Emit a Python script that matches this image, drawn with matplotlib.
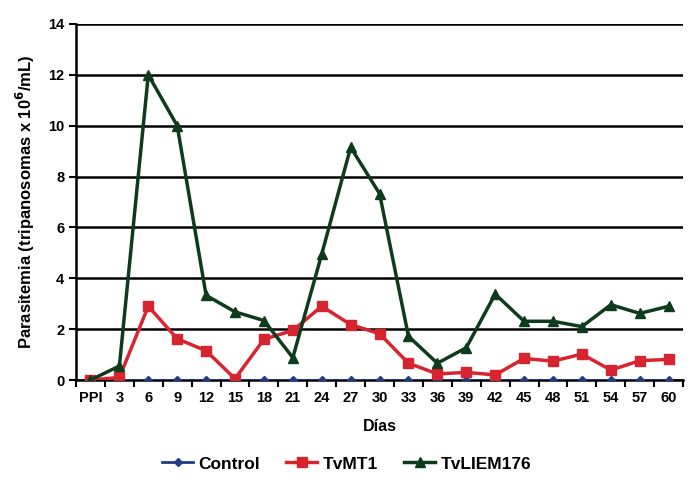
import numpy as np
import matplotlib
matplotlib.use("Agg")
import matplotlib.pyplot as plt

plt.rcParams['font.family'] = ['Liberation Sans', 'DejaVu Sans']
plt.rcParams['font.weight'] = 'bold'

dias = ["PPI", "3", "6", "9", "12", "15", "18", "21", "24", "27", "30",
        "33", "36", "39", "42", "45", "48", "51", "54", "57", "60"]
control = [0] * 21
tvmt1 = [0.0, 0.1, 2.9, 1.62, 1.15, 0.05, 1.6, 1.95, 2.9, 2.18, 1.82,
         0.66, 0.24, 0.3, 0.2, 0.85, 0.74, 1.02, 0.39, 0.76, 0.81]
tvliem176 = [0.0, 0.55, 12.0, 10.0, 3.33, 2.68, 2.34, 0.88, 4.95, 9.15, 7.33,
             1.72, 0.66, 1.27, 3.38, 2.31, 2.31, 2.1, 2.96, 2.62, 2.9]

fig = plt.figure(figsize=(6.93, 4.8), dpi=100)
ax = fig.add_axes([0.1097, 0.2083, 0.876, 0.7417])

x = np.arange(len(dias))
ax.plot(x, control, color="#1F3C88", marker="D", markersize=4.5, lw=2, label="Control", zorder=3)
ax.plot(x, tvmt1, color="#D7252F", marker="s", markersize=7, lw=2.5, label="TvMT1", zorder=4)
ax.plot(x, tvliem176, color="#0E3B1C", marker="^", markersize=7, lw=2.5, label="TvLIEM176", zorder=5)

ax.set_xlim(-0.5, len(dias) - 0.5)
ax.set_ylim(0, 14)
ax.set_yticks(range(0, 15, 2))
ax.set_xticks(x)
ax.set_xticklabels(dias)
ax.set_xticks(np.arange(-0.5, len(dias), 1), minor=True)
ax.tick_params(axis="x", which="major", length=0, labelsize=10.5, pad=8)
ax.tick_params(axis="x", which="minor", length=5, width=1.5, direction="out", color="black")
ax.tick_params(axis="y", length=5, width=1.5, labelsize=10.5)
ax.yaxis.grid(True, color="black", lw=1.8)
ax.set_axisbelow(True)

for s in ["top", "right"]:
    ax.spines[s].set_visible(False)
ax.spines["left"].set_linewidth(1.8)
ax.spines["bottom"].set_linewidth(1.8)

ax.set_xlabel("Días", fontsize=11.5, fontweight="bold", labelpad=10)
ax.set_ylabel("Parasitemia (tripanosomas x 10$^{\\mathbf{6}}$/mL)", fontsize=12, fontweight="bold", labelpad=8)

fig.legend(loc="lower center", bbox_to_anchor=(0.5, -0.015), ncol=3, frameon=False,
           prop={"weight": "bold", "size": 12.5}, handlelength=1.8, columnspacing=1.5,
           handletextpad=0.3)

fig.savefig("out.png", dpi=100)
